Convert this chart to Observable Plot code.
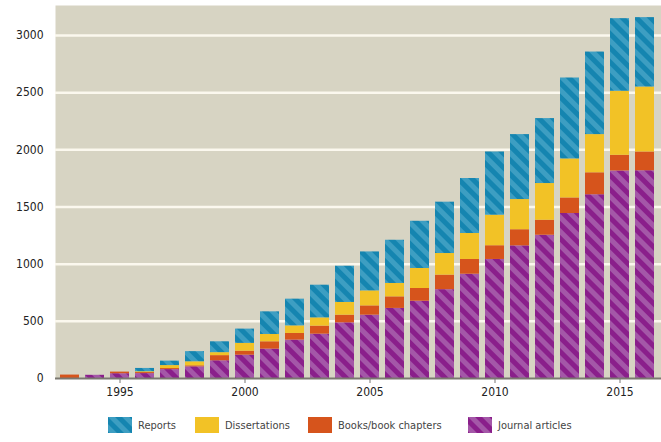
<!DOCTYPE html>
<html><head><meta charset="utf-8">
<script src="https://cdn.jsdelivr.net/npm/d3@7"></script>
<script src="https://cdn.jsdelivr.net/npm/@observablehq/plot@0.6"></script>
<style>
body{margin:0;background:#fff;overflow:hidden;width:661px;height:442px;font-family:"DejaVu Sans Condensed","DejaVu Sans",sans-serif;}
#chart{position:relative;width:661px;height:405px;}
#legend{position:relative;height:37px;width:661px;}
.item{position:absolute;top:12px;display:flex;align-items:center;font-size:11px;color:#444;height:16px;}
.item svg{margin-right:6px;display:block;}
</style></head><body>
<div id="chart"></div><div id="legend"></div>
<script>
const years = [1993,1994,1995,1996,1997,1998,1999,2000,2001,2002,2003,2004,2005,2006,2007,2008,2009,2010,2011,2012,2013,2014,2015,2016];
const journal = [0,28,42,43,78,102,155,204,257,336,388,487,554,613,676,777,912,1041,1160,1253,1443,1607,1815,1817];
const books = [30,0,14,9,9,9,45,35,64,58,70,67,81,101,111,127,129,120,141,131,136,192,137,164];
const dissertations = [0,0,0,7,26,35,26,68,64,66,72,111,131,117,175,189,227,267,264,321,341,334,560,568];
const reports = [0,0,0,29,39,89,95,125,198,234,286,317,341,378,413,449,481,553,568,568,708,722,635,607];
const types = ["Journal articles","Books/book chapters","Dissertations","Reports"];
const legendOrder = ["Reports","Dissertations","Books/book chapters","Journal articles"];
const yTicks = [0,500,1000,1500,2000,2500,3000];
const gridValues = [500,1000,1500,2000,2500,3000];
const xTicks = [1995,2000,2005,2010,2015];
const fills = {"Journal articles":"url(#pJ)","Books/book chapters":"#d6541c","Dissertations":"#f2c226","Reports":"url(#pR)"};

const series = [journal, books, dissertations, reports];
const data = [];
years.forEach((yr,i)=>series.forEach((arr,j)=>data.push({year:yr,type:types[j],value:arr[i]})));

const ns = "http://www.w3.org/2000/svg";
function makePattern(id, base, stripe){
  const p = document.createElementNS(ns,"pattern");
  p.setAttribute("id",id);
  p.setAttribute("patternUnits","userSpaceOnUse");
  p.setAttribute("width",10); p.setAttribute("height",10);
  p.setAttribute("patternTransform","rotate(-45)");
  const r1 = document.createElementNS(ns,"rect");
  r1.setAttribute("width",10); r1.setAttribute("height",10); r1.setAttribute("fill",base);
  const r2 = document.createElementNS(ns,"rect");
  r2.setAttribute("width",5); r2.setAttribute("height",10); r2.setAttribute("fill",stripe);
  p.appendChild(r1); p.appendChild(r2);
  return p;
}
function defsMark(){
  const d = document.createElementNS(ns,"defs");
  d.appendChild(makePattern("pJ","#8a1f8b","#a457a8"));
  d.appendChild(makePattern("pR","#1585b0","#3d9ec2"));
  return d;
}

const chart = Plot.plot({
  width: 661, height: 405,
  marginLeft: 55, marginRight: 0, marginTop: 5, marginBottom: 27,
  x: {type:"band", domain: years, range:[46.7, 667.7], padding: 0.26, label: null},
  y: {domain:[0,3262], label: null},
  color: {domain: types, range: types.map(t=>fills[t])},
  style: {fontFamily:'"DejaVu Sans Condensed","DejaVu Sans",sans-serif', fontSize:"12px", background:"#fff", overflow:"visible"},
  marks: [
    defsMark,
    Plot.frame({fill:"#d7d4c3", stroke:null}),
    Plot.ruleY(gridValues, {stroke:"#fbf8ee", strokeWidth:2.5}),
    Plot.barY(data, Plot.stackY({x:"year", y:"value", fill:"type", z:"type"})),
    Plot.ruleY([0], {stroke:"#7b7870", strokeWidth:2}),
    Plot.axisY({ticks:yTicks, tickSize:0, tickPadding:12, tickFormat:d=>String(d), fill:"#222", fontSize:12}),
    Plot.axisX({ticks:xTicks, tickSize:5, tickPadding:4, tickFormat:d=>String(d), stroke:"#777", fill:"#222", fontSize:12})
  ]
});
document.getElementById("chart").appendChild(chart);

const lefts = {"Reports":108,"Dissertations":195,"Books/book chapters":308,"Journal articles":468};
const legend = document.getElementById("legend");
legendOrder.forEach(t=>{
  const item = document.createElement("div");
  item.className = "item";
  item.style.left = lefts[t]+"px";
  item.innerHTML = `<svg width="24" height="16"><rect width="24" height="16" fill="${fills[t]}"></rect></svg><span>${t}</span>`;
  legend.appendChild(item);
});
</script></body></html>
